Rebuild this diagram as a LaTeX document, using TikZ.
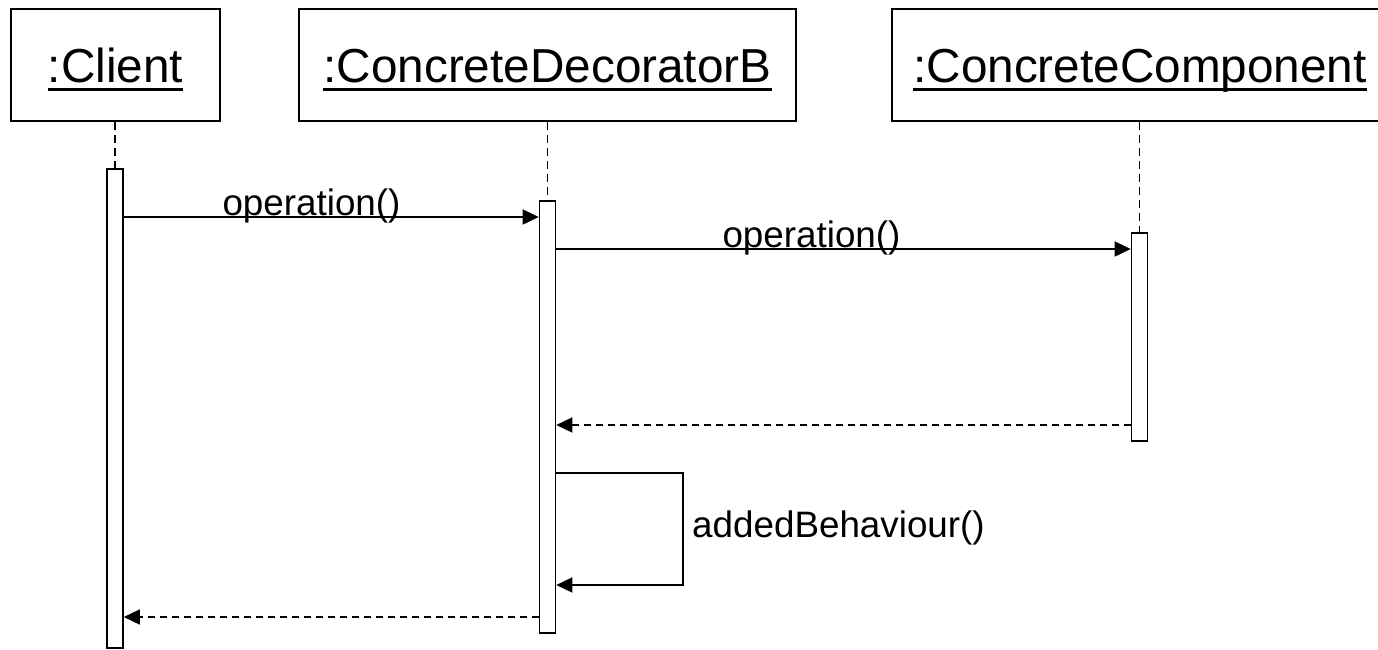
\documentclass[tikz,border=0pt]{standalone}
\usepackage{fontspec}
\setmainfont{Liberation Sans}
\usetikzlibrary{arrows.meta}

\newcommand{\objname}[1]{\setbox0\hbox{#1}\rlap{\rule[-9pt]{\wd0}{3pt}}\box0}

\tikzset{
    objbox/.style={draw, line width=1.6pt, minimum height=112pt, inner sep=0pt,
        text height=34pt, text depth=0pt, font=\fontsize{47.7}{57}\selectfont},
    actbar/.style={draw, fill=white, line width=1.6pt, minimum width=16pt, inner sep=0pt},
    lifeline/.style={line width=1.6pt, dash pattern=on 8pt off 5pt},
    msg/.style={line width=1.6pt, -{Triangle[length=16pt,width=15pt]}},
    reply/.style={msg, dash pattern=on 7pt off 5pt},
    msglabel/.style={inner sep=0pt, font=\fontsize{36.8}{44}\selectfont}
}

\begin{document}
\begin{tikzpicture}[x=1pt,y=-1pt]
    \useasboundingbox (0,0) rectangle (1378,649);
    \node[objbox, minimum width=209pt] (client) at (115.5,65) {\objname{:Client}};
    \node[objbox, minimum width=497pt] (dec) at (547.5,65) {\objname{:ConcreteDecoratorB}};
    \node[objbox, minimum width=496pt] (comp) at (1140,65) {\objname{:ConcreteComponent}};
    \node[actbar, minimum height=479pt] (act-client) at (115,408.5) {};
    \node[actbar, minimum height=432pt] (act-dec) at (547.5,417) {};
    \node[actbar, minimum height=208pt] (act-comp) at (1139.5,337) {};
    \foreach \n in {client,dec,comp}{
        \draw[lifeline] (act-\n.north |- \n.south) -- (act-\n.north);
    }
    \coordinate (m1) at (0,217);
    \coordinate (m2) at (0,249);
    \coordinate (m3) at (0,425);
    \coordinate (selftop) at (683,473);
    \coordinate (selfbot) at (683,585);
    \coordinate (m4) at (0,617);
    \draw[msg] (act-client.east |- m1) -- (act-dec.west |- m1);
    \draw[msg] (act-dec.east |- m2) -- (act-comp.west |- m2);
    \draw[reply] (act-comp.west |- m3) -- (act-dec.east |- m3);
    \draw[msg] (act-dec.east |- selftop) -- (selftop) -- (selfbot) -- (act-dec.east |- selfbot);
    \draw[reply] (act-dec.west |- m4) -- (act-client.east |- m4);
    \node[msglabel, anchor=base] (op1) at (311.5,215) {operation()};
    \node[msglabel, anchor=base] (op2) at (811.5,247) {operation()};
    \node[msglabel, anchor=base west] (added) at (692,537) {addedBehaviour()};
\end{tikzpicture}
\end{document}
